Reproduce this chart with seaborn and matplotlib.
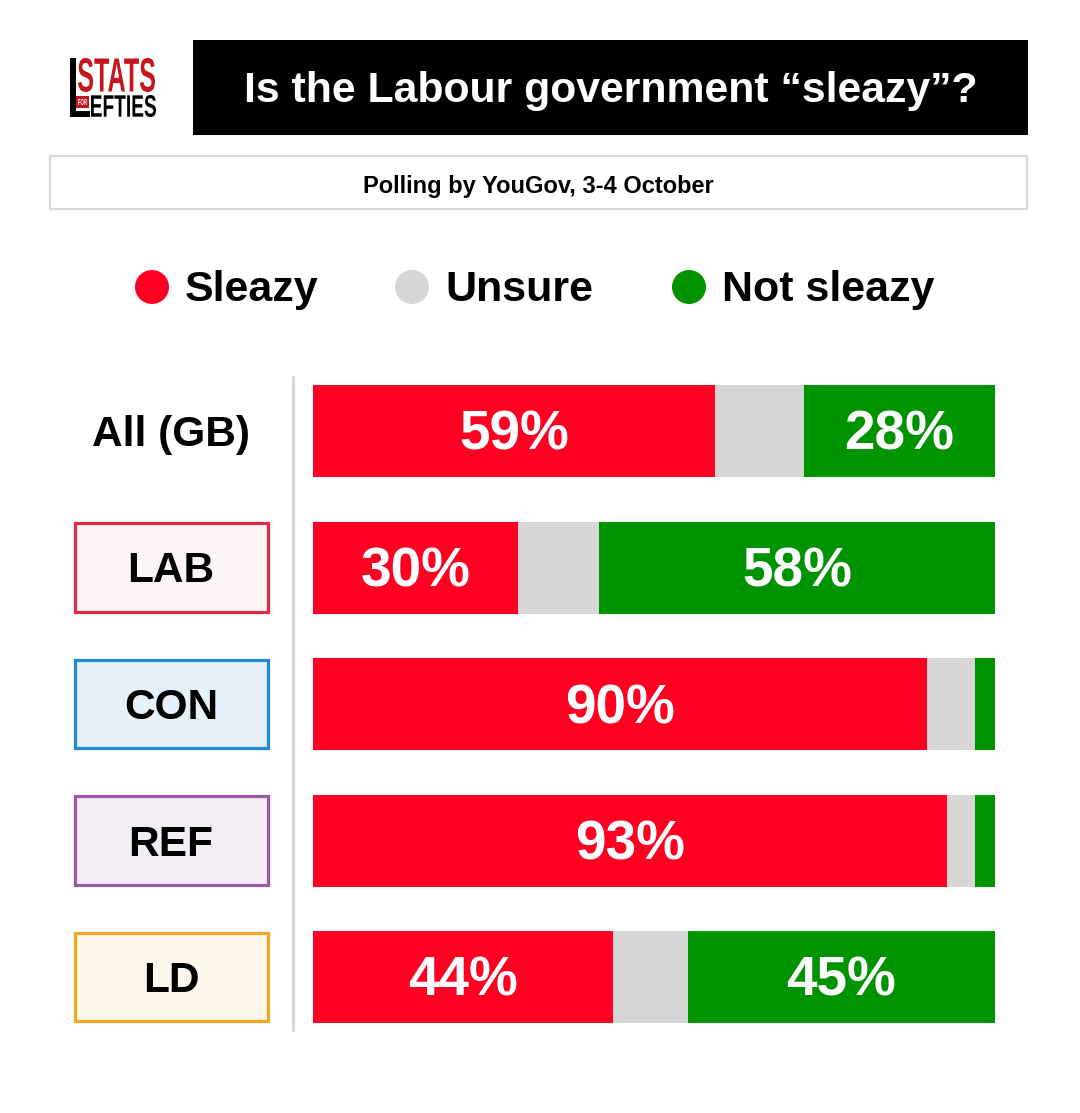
import matplotlib
matplotlib.use("Agg")
import matplotlib.pyplot as plt
import matplotlib.transforms as mtransforms
from matplotlib.patches import Rectangle, Ellipse, PathPatch
from matplotlib.textpath import TextPath
from matplotlib.font_manager import FontProperties
import seaborn as sns
import pandas as pd

# <--- Chart data --->
groups = ["All (GB)", "LAB", "CON", "REF", "LD"]
sleazy = [59, 30, 90, 93, 44]
unsure = [13, 12, 7, 4, 11]
not_sleazy = [28, 58, 3, 3, 45]

title = "Is the Labour government \u201csleazy\u201d?"
subtitle = "Polling by YouGov, 3-4 October"
legend_labels = ["Sleazy", "Unsure", "Not sleazy"]

# Colours
c_red = "#ff0022"
c_grey = "#d6d6d6"
c_green = "#009300"
party_edge = {"LAB": "#dc2d44", "CON": "#1f8ad6", "REF": "#9b5aa4", "LD": "#f5a623"}
party_face = {"LAB": "#fdf4f5", "CON": "#e6f1fa", "REF": "#f3eef6", "LD": "#fdf6ea"}

sns.set_style("white")
plt.rcParams["font.family"] = ["Liberation Sans", "DejaVu Sans"]
plt.rcParams["font.weight"] = "bold"

W, H = 1080, 1113
fig = plt.figure(figsize=(W / 100, H / 100), dpi=100)


def fx(px):
    return px / W


def fy(py):
    return 1 - py / H


# Stacked bars built back to front from cumulative totals
df = pd.DataFrame({"group": groups, "sleazy": sleazy, "unsure": unsure, "not": not_sleazy})
df["cum_unsure"] = df["sleazy"] + df["unsure"]
df["cum_not"] = df["cum_unsure"] + df["not"]

row_gap = 136.5
ax = fig.add_axes([fx(313), fy(977 + row_gap / 2), fx(995) - fx(313), (5 * row_gap) / H])
bar_w = 92 / row_gap
sns.barplot(data=df, x="cum_not", y="group", orient="h", color=c_green, width=bar_w,
            saturation=1, ax=ax, linewidth=0)
sns.barplot(data=df, x="cum_unsure", y="group", orient="h", color=c_grey, width=bar_w,
            saturation=1, ax=ax, linewidth=0)
sns.barplot(data=df, x="sleazy", y="group", orient="h", color=c_red, width=bar_w,
            saturation=1, ax=ax, linewidth=0)
ax.set_xlim(0, 100)
ax.set_ylim(len(groups) - 0.5, -0.5)
ax.set_xlabel("")
ax.set_ylabel("")
ax.set_xticks([])
ax.set_yticks([])
sns.despine(ax=ax, left=True, bottom=True)

# Value labels (baseline placed below row centre)
val_off = 19 / row_gap
for i, row in df.iterrows():
    if row["sleazy"] >= 15:
        ax.text(row["sleazy"] / 2, i + val_off, f"{row['sleazy']}%", color="white", fontsize=39.5,
                fontweight="bold", ha="center", va="baseline")
    if row["not"] >= 15:
        ax.text(row["cum_unsure"] + row["not"] / 2, i + val_off, f"{row['not']}%", color="white",
                fontsize=39.5, fontweight="bold", ha="center", va="baseline")

# Group labels on the left (boxes for parties)
blend = mtransforms.blended_transform_factory(fig.transFigure, ax.transData)
lab_off = 15 / row_gap
for i, g in enumerate(groups):
    if g in party_edge:
        ax.add_patch(Rectangle((fx(74.5), i - bar_w / 2 + 0.011), fx(268) - fx(74.5), bar_w - 0.022,
                               transform=blend, facecolor=party_face[g], edgecolor=party_edge[g],
                               linewidth=2.3, clip_on=False))
    ax.text(fx(171), i + lab_off, g, transform=blend, fontsize=30.5, fontweight="bold",
            color="black", ha="center", va="baseline", clip_on=False)

# Separator line
fig.add_artist(plt.Line2D([fx(293), fx(293)], [fy(377), fy(1030)], color="#d9d9d9", linewidth=2.4))

# Title box
fig.add_artist(Rectangle((fx(193), fy(135)), fx(1028) - fx(193), fy(40) - fy(135),
                         facecolor="black", edgecolor="none"))
fig.text(fx(610.5), fy(102), title, color="white", fontsize=30.8, fontweight="bold",
         ha="center", va="baseline")

# Subtitle box
fig.add_artist(Rectangle((fx(50), fy(209)), fx(1027) - fx(50), fy(156) - fy(209),
                         facecolor="white", edgecolor="#d9d9d9", linewidth=1.6))
fig.text(fx(538.5), fy(193), subtitle, color="black", fontsize=17, fontweight="bold",
         ha="center", va="baseline")

# Legend
leg_x = [152, 412, 689]
for x, lab, col in zip(leg_x, legend_labels, [c_red, c_grey, c_green]):
    fig.add_artist(Ellipse((fx(x), fy(287)), 34 / W, 34 / H, facecolor=col, edgecolor="none"))
    fig.text(fx(x + 33), fy(301), lab, color="black", fontsize=31, fontweight="bold",
             ha="left", va="baseline")


# Logo: squeeze text paths into pixel boxes
def fit_text(s, x0, y0, x1, y1, color):
    tp = TextPath((0, 0), s, size=50, prop=FontProperties(family="Liberation Sans", weight="bold"))
    ext = tp.get_extents()
    tr = (mtransforms.Affine2D()
          .translate(-ext.x0, -ext.y0)
          .scale((x1 - x0) / ext.width / W, (y1 - y0) / ext.height / H)
          .translate(fx(x0), fy(y1)))
    fig.add_artist(PathPatch(tp, transform=tr + fig.transFigure, facecolor=color,
                             edgecolor="none"))


logo_red = "#c4161c"
fig.add_artist(Rectangle((fx(70), fy(117)), fx(76) - fx(70), fy(58) - fy(117),
                         facecolor="black", edgecolor="none"))
fig.add_artist(Rectangle((fx(70), fy(117)), fx(90) - fx(70), fy(111) - fy(117),
                         facecolor="black", edgecolor="none"))
fit_text("STATS", 78, 58, 155, 92, logo_red)
fig.add_artist(Rectangle((fx(76), fy(108)), fx(89) - fx(76), fy(96) - fy(108),
                         facecolor=logo_red, edgecolor="none"))
fit_text("FOR", 78, 99, 87, 105, "white")
fit_text("EFTIES", 91, 95, 156, 117, "black")

plt.savefig("out.png", dpi=100)
